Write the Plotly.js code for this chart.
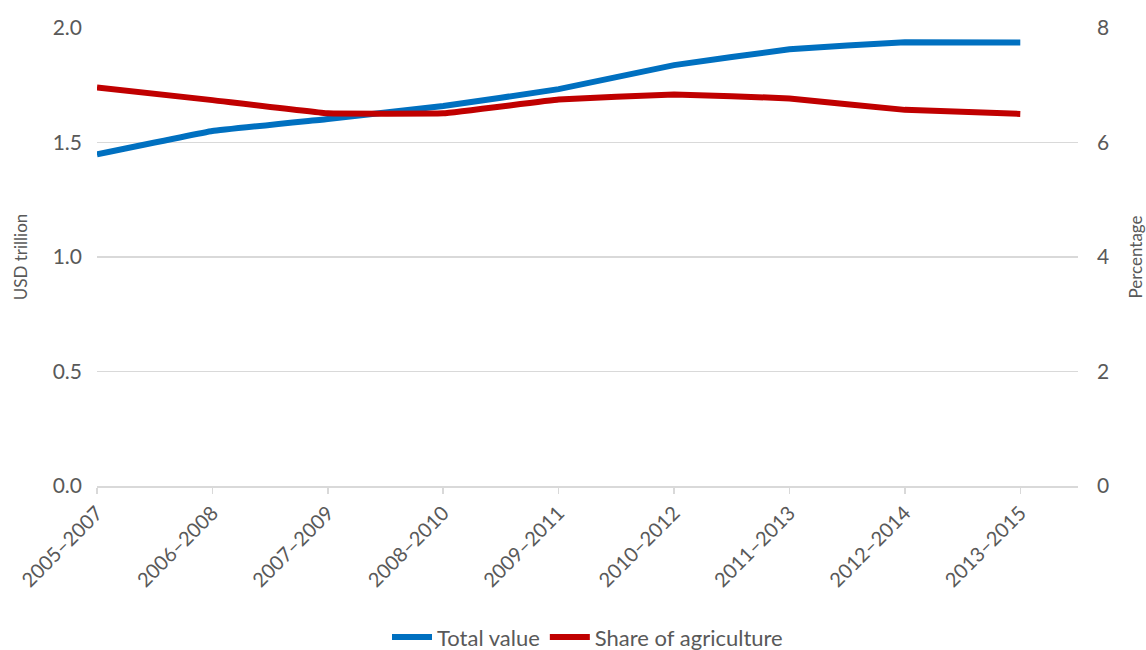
<!DOCTYPE html>
<html>
<head>
<meta charset="utf-8">
<script src="https://cdn.plot.ly/plotly-3.0.1.min.js"></script>
<style>html,body{margin:0;padding:0;background:#fff}#chart{width:1146px;height:650px}</style>
</head>
<body>
<div id="chart"></div>
<script>
const periods = ["2005–2007","2006–2008","2007–2009","2008–2010","2009–2011","2010–2012","2011–2013","2012–2014","2013–2015"];
const totalValue = [1.448, 1.55, 1.603, 1.659, 1.733, 1.838, 1.907, 1.938, 1.937];
const shareAgri = [6.96, 6.74, 6.51, 6.51, 6.75, 6.84, 6.77, 6.57, 6.50];
const leftTicks = [0, 0.5, 1.0, 1.5, 2.0];
const leftTickText = ["0.0","0.5","1.0","1.5","2.0"];
const rightTicks = [0, 2, 4, 6, 8];

const FONT = "Lato, 'Open Sans', sans-serif";
const GREY = "#595959";

const traces = [
  {x: periods, y: totalValue, name: "Total value", type: "scatter", mode: "lines",
   line: {color: "#0070c0", width: 6, shape: "spline", smoothing: 0.2}, yaxis: "y"},
  {x: periods, y: shareAgri, name: "Share of agriculture", type: "scatter", mode: "lines",
   line: {color: "#c00000", width: 6, shape: "spline", smoothing: 0.2}, yaxis: "y2"}
];

const layout = {
  width: 1146, height: 650,
  margin: {l: 97, r: 68, t: 28, b: 164, autoexpand: false},
  paper_bgcolor: "#fff", plot_bgcolor: "#fff",
  font: {family: FONT, color: GREY, size: 20},
  showlegend: true,
  legend: {orientation: "h", x: 0.5, xanchor: "center", y: -0.33, yanchor: "middle",
           font: {size: 22, color: GREY}, itemwidth: 40, tracegroupgap: 0},
  xaxis: {type: "category", range: [0, 8.5], showgrid: false, zeroline: false, automargin: false,
          showline: true, linecolor: "#d9d9d9", linewidth: 1.5,
          ticks: "outside", ticklen: 6, tickcolor: "#d9d9d9", tickwidth: 1.5,
          tickangle: -45, tickfont: {size: 20, color: GREY}},
  yaxis: {range: [0, 2], tickvals: leftTicks, ticktext: leftTickText, automargin: false,
          showgrid: true, gridcolor: "#d9d9d9", gridwidth: 1.5, zeroline: false,
          ticks: "", ticklabelstandoff: 14, tickfont: {size: 21, color: GREY},
          title: {text: "USD trillion", font: {size: 17, color: GREY}, standoff: 20}},
  yaxis2: {range: [0, 8], tickvals: rightTicks, overlaying: "y", side: "right", automargin: false,
           showgrid: false, zeroline: false, ticks: "", ticklabelstandoff: 18,
           tickfont: {size: 21, color: GREY},
           title: {text: "Percentage", font: {size: 17, color: GREY}, standoff: 24}}
};

Plotly.newPlot("chart", traces, layout, {displayModeBar: false, staticPlot: true});
</script>
</body>
</html>
